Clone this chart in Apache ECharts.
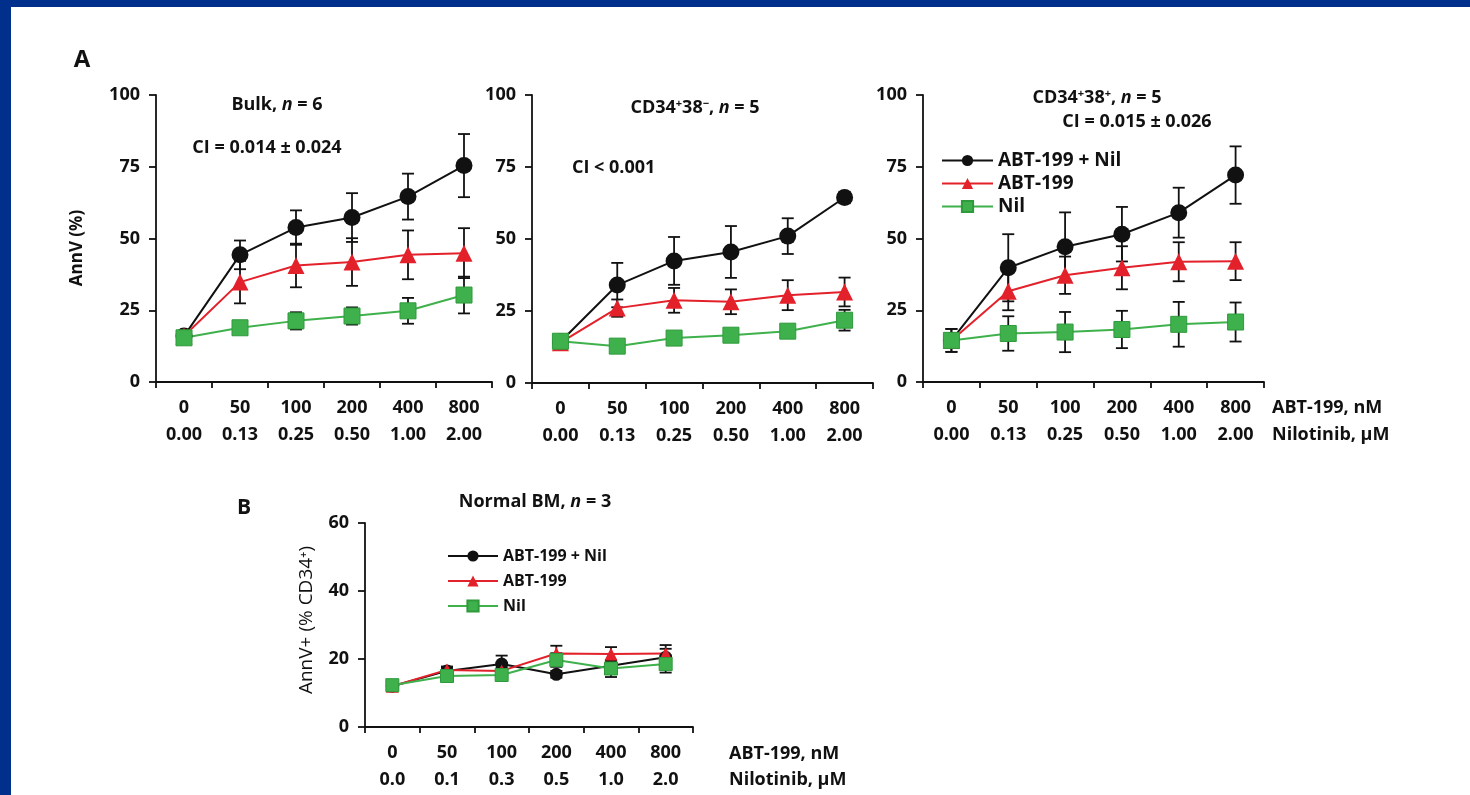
<!DOCTYPE html>
<html><head><meta charset="utf-8">
<script src="https://cdn.jsdelivr.net/npm/echarts@6/dist/echarts.min.js"></script>
<style>html,body{margin:0;padding:0;background:#fff;}#c{width:1470px;height:795px;}</style>
</head><body><div id="c"></div>
<script>
// ---- data ----
const abtDoses = ['0','50','100','200','400','800'];
const nilDosesA = ['0.00','0.13','0.25','0.50','1.00','2.00'];
const nilDosesB = ['0.0','0.1','0.3','0.5','1.0','2.0'];
const yTicksA = [0,25,50,75,100];
const yTicksB = [0,20,40,60];
const seriesNames = ['ABT-199 + Nil','ABT-199','Nil'];

// Panel A – Bulk
const bulkCombo = [16, 44.3, 53.8, 57.3, 64.6, 75.4];
const bulkComboErr = [1.5, 5, 6, 8.5, 8, 11];
const bulkABT = [16, 34.8, 40.6, 41.8, 44.3, 44.9];
const bulkABTErr = [1.5, 7.4, 7.6, 8.3, 8.5, 8.7];
const bulkNil = [15.4, 18.9, 21.3, 23, 24.8, 30.3];
const bulkNilErr = [1.5, 1.5, 3, 3, 4.5, 6.4];
// Panel A – CD34+38-
const negCombo = [14.3, 34, 42.4, 45.5, 51, 64.4];
const negComboErr = [2, 7.7, 8.3, 9, 6.2, 2];
const negABT = [14, 26, 28.7, 28.2, 30.5, 31.6];
const negABTErr = [2, 3, 4.3, 4.3, 5.2, 5];
const negNil = [14.5, 12.8, 15.6, 16.6, 18, 21.8];
const negNilErr = [1.5, 1, 1, 1, 1, 3.6];
// Panel A – CD34+38+
const posCombo = [14.5, 39.8, 47.1, 51.5, 59, 72.1];
const posComboErr = [4, 11.7, 12, 9.5, 8.7, 10];
const posABT = [14.5, 31.6, 37.2, 39.8, 41.9, 42.1];
const posABTErr = [4, 6.6, 6.5, 7.5, 6.8, 6.6];
const posNil = [14.5, 16.9, 17.4, 18.3, 20.1, 20.9];
const posNilErr = [2, 6, 7, 6.5, 7.8, 6.8];
// Panel B – Normal BM
const bmCombo = [12, 16.5, 18.5, 15.5, 18, 20.5];
const bmComboErr = [1, 1, 2.5, 1, 1.5, 2.5];
const bmABT = [12, 16.8, 16.5, 21.6, 21.5, 21.6];
const bmABTErr = [1, 1, 1, 2.3, 2, 2.5];
const bmNil = [12.3, 15, 15.3, 19.7, 17.2, 18.5];
const bmNilErr = [1, 1, 1.5, 2, 2.5, 2.5];

// ---- styling ----
const FONT = '"Open Sans", "Noto Sans", sans-serif';
const FS = 18;
const BLACK = '#111111', RED = '#e3212b', GREEN = '#3fb14c';
const colors = [BLACK, RED, GREEN];
const symbols = ['circle', 'triangle', 'rect'];

const grids = [
  {left:156, top:95, width:336, height:287},
  {left:532, top:95, width:341, height:288},
  {left:923, top:95, width:341, height:287},
  {left:365, top:523, width:328, height:204}
];
const panels = [
  {vals:[bulkCombo,bulkABT,bulkNil], errs:[bulkComboErr,bulkABTErr,bulkNilErr], nil:nilDosesA, ticks:yTicksA, sz:[17,17,16]},
  {vals:[negCombo,negABT,negNil], errs:[negComboErr,negABTErr,negNilErr], nil:nilDosesA, ticks:yTicksA, sz:[17,17,16]},
  {vals:[posCombo,posABT,posNil], errs:[posComboErr,posABTErr,posNilErr], nil:nilDosesA, ticks:yTicksA, sz:[17,17,16]},
  {vals:[bmCombo,bmABT,bmNil], errs:[bmComboErr,bmABTErr,bmNilErr], nil:nilDosesB, ticks:yTicksB, sz:[13,13,13]}
];

function errItem(params, api) {
  const x = api.value(0), lo = api.value(1), hi = api.value(2);
  const p1 = api.coord([x, hi]), p2 = api.coord([x, lo]);
  const w = 6;
  const st = {stroke: BLACK, lineWidth: 1.8};
  return {type:'group', children:[
    {type:'line', shape:{x1:p1[0], y1:p1[1], x2:p2[0], y2:p2[1]}, style:st},
    {type:'line', shape:{x1:p1[0]-w, y1:p1[1], x2:p1[0]+w, y2:p1[1]}, style:st},
    {type:'line', shape:{x1:p2[0]-w, y1:p2[1], x2:p2[0]+w, y2:p2[1]}, style:st}
  ]};
}

const xAxes = [], yAxes = [], series = [];
panels.forEach((p, gi) => {
  const ticks = p.ticks;
  const step = ticks[1] - ticks[0];
  xAxes.push({
    type:'category', gridIndex:gi, boundaryGap:true,
    data: abtDoses.map((d, i) => d + '\n' + p.nil[i]),
    axisLine:{lineStyle:{color:BLACK, width:1.8}},
    axisTick:{show:true, length:6, lineStyle:{color:BLACK, width:1.8}},
    axisLabel:{color:BLACK, fontSize:FS, fontWeight:'bold', fontFamily:FONT, lineHeight:27, margin:12, interval:0},
    splitLine:{show:false}
  });
  yAxes.push({
    type:'value', gridIndex:gi, min:ticks[0], max:ticks[ticks.length-1], interval:step,
    axisLine:{show:true, lineStyle:{color:BLACK, width:1.8}},
    axisTick:{show:true, length:7, lineStyle:{color:BLACK, width:1.8}},
    axisLabel:{color:BLACK, fontSize:FS, fontWeight:'bold', fontFamily:FONT, margin:16},
    splitLine:{show:false}
  });
  for (let s = 0; s < 3; s++) {
    series.push({
      type:'custom', name: seriesNames[s] + ' err', xAxisIndex:gi, yAxisIndex:gi,
      renderItem: errItem, encode:{x:0, y:[1,2]}, z:2, silent:true,
      data: p.vals[s].map((v, i) => [i, v - p.errs[s][i], v + p.errs[s][i]])
    });
  }
  for (let s = 0; s < 3; s++) {
    series.push({
      type:'line', name: seriesNames[s], xAxisIndex:gi, yAxisIndex:gi, z:3,
      data: p.vals[s],
      symbol: symbols[s], symbolSize: p.sz[s], showSymbol:true,
      lineStyle:{color: colors[s], width:2},
      itemStyle:{color: colors[s], borderColor: s===2 ? '#2f9a3c' : colors[s], borderWidth: s===2 ? 1 : 0},
      animation:false
    });
  }
});

function txt(x, y, text, rich, opts) {
  return Object.assign({type:'text', x:x, y:y, z:10, style:Object.assign({
    text:text, fill:BLACK, fontSize:FS, fontWeight:'bold', fontFamily:FONT,
    align:'center', verticalAlign:'middle', rich: rich || {}
  }, (opts && opts.style) || {})}, (opts && opts.el) || {});
}
const R = {
  b:{fontSize:FS, fontWeight:'bold', fontFamily:FONT, fill:BLACK},
  i:{fontSize:FS, fontWeight:'bold', fontStyle:'italic', fontFamily:FONT, fill:BLACK},
  s:{fontSize:11, fontWeight:'bold', fontFamily:FONT, fill:BLACK, padding:[0,0,9,0]}
};

const graphics = [
  {type:'rect', shape:{x:0, y:0, width:1470, height:7}, style:{fill:'#00308c'}, z:20},
  {type:'rect', shape:{x:0, y:0, width:11, height:795}, style:{fill:'#00308c'}, z:20},
  txt(82, 60, 'A', null, {style:{fontSize:24}}),
  txt(244, 508, 'B', null, {style:{fontSize:21}}),
  txt(277, 105, '{b|Bulk, }{i|n}{b| = 6}', R),
  txt(267, 148, 'CI = 0.014 ± 0.024'),
  txt(695, 108, '{b|CD34}{s|+}{b|38}{s|−}{b|, }{i|n}{b| = 5}', R),
  txt(572, 168, 'CI < 0.001', null, {style:{align:'left'}}),
  txt(1097, 98, '{b|CD34}{s|+}{b|38}{s|+}{b|, }{i|n}{b| = 5}', R),
  txt(1137, 122, 'CI = 0.015 ± 0.026'),
  txt(535, 502, '{b|Normal BM, }{i|n}{b| = 3}', R),
  txt(1272, 408, 'ABT-199, nM', null, {style:{align:'left'}}),
  txt(1272, 435, 'Nilotinib, μM', null, {style:{align:'left'}}),
  txt(729, 754, 'ABT-199, nM', null, {style:{align:'left'}}),
  txt(729, 780, 'Nilotinib, μM', null, {style:{align:'left'}}),
  txt(77, 248, 'AnnV (%)', null, {el:{rotation:Math.PI/2}, style:{fontSize:17}}),
  txt(307, 620, 'AnnV+ (% CD34⁺)', null, {el:{rotation:Math.PI/2}, style:{fontWeight:'normal', fontSize:19}})
];

const legendBase = {
  orient:'vertical', itemWidth:51, itemHeight:14, itemStyle:{},
  data: seriesNames, selectedMode:false
};

const chart = echarts.init(document.getElementById('c'), null, {renderer:'canvas'});
chart.setOption({
  backgroundColor:'#ffffff',
  animation:false,
  grid: grids,
  xAxis: xAxes,
  yAxis: yAxes,
  series: series,
  legend: [
    Object.assign({}, legendBase, {left:936, top:146, itemGap:4,
      textStyle:{color:BLACK, fontSize:19, fontWeight:'bold', fontFamily:FONT}}),
    Object.assign({}, legendBase, {left:442, top:543, itemGap:9, itemWidth:50,
      textStyle:{color:BLACK, fontSize:16, fontWeight:'bold', fontFamily:FONT}})
  ],
  graphic: graphics
});
</script></body></html>
